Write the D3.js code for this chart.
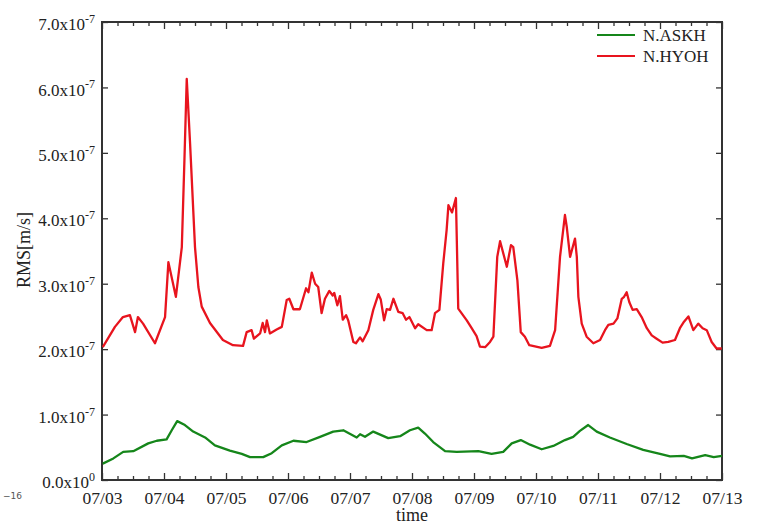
<!DOCTYPE html>
<html>
<head>
<meta charset="utf-8">
<script src="https://cdn.jsdelivr.net/npm/d3@7"></script>
<style>
  body { margin: 0; background: #fff; }
  svg { display: block; }
  text { font-family: "Liberation Serif", "Times New Roman", serif; fill: #222; }
  .domain { display: none; }
  .tick line { stroke: #333; stroke-width: 1.3; }
</style>
</head>
<body>
<svg id="chart" width="760" height="526"></svg>
<script>
// Hours since 07/03 00:00, values in units of 1e-7 m/s.
const dayLabels = ["07/03", "07/04", "07/05", "07/06", "07/07", "07/08", "07/09", "07/10", "07/11", "07/12", "07/13"];
const yTicks = [0, 1, 2, 3, 4, 5, 6, 7];

const hyohHours = [0.3, 5.0, 8.1, 10.8, 12.8, 13.9, 15.9, 20.5, 24.4, 25.7, 28.6, 30.9, 31.9, 32.8, 34.1, 36.0, 37.3, 38.6, 41.8, 46.8, 50.7, 54.6, 56.0,
  57.9, 58.8, 61.2, 62.2, 63.1, 63.8, 65.0, 67.6, 69.6, 71.5, 72.5, 74.1, 76.6, 79.0, 79.9, 81.2, 82.5, 83.7, 85.0, 86.3,
  88.0, 89.3, 89.9, 91.1, 92.1, 93.2, 94.5, 95.3, 97.3, 98.3, 99.9, 100.9, 103.1, 105.0, 107.0, 107.9, 109.2, 110.2, 111.5, 112.8,
  114.7, 116.4, 117.7, 119.0, 121.2, 122.4, 125.7, 127.6, 128.9, 130.6, 132.1, 133.4, 134.1, 135.5, 137.0, 137.9, 141.2, 143.1, 145.0, 146.3,
  148.3, 150.2, 151.5, 153.0, 154.1, 156.7, 158.3, 159.2, 160.8, 162.1, 163.7, 165.4, 170.2, 173.4, 175.4, 177.3, 179.2, 179.9, 181.2, 183.1,
  183.8, 184.4, 185.7, 187.6, 190.2, 192.8, 194.7, 196.0, 198.0, 199.5, 201.2, 202.1, 203.1, 204.1, 205.4, 207.0, 208.9, 210.9, 212.8, 214.7,
  217.0, 219.2, 221.8, 223.7, 225.3, 227.0, 228.9, 230.8, 232.5, 234.1, 236.0, 237.9, 239.9];
const hyohValues = [2.03, 2.34, 2.49, 2.52, 2.26, 2.49, 2.39, 2.09, 2.49, 3.33, 2.80, 3.56, 4.88, 6.13, 5.14, 3.56, 2.95, 2.65, 2.40, 2.14, 2.06, 2.05, 2.26,
  2.29, 2.16, 2.24, 2.40, 2.26, 2.44, 2.24, 2.30, 2.34, 2.75, 2.77, 2.61, 2.61, 2.93, 2.87, 3.17, 3.00, 2.95, 2.55, 2.77,
  2.89, 2.82, 2.86, 2.67, 2.81, 2.45, 2.52, 2.44, 2.11, 2.09, 2.18, 2.12, 2.29, 2.60, 2.84, 2.76, 2.44, 2.61, 2.60, 2.77,
  2.57, 2.55, 2.45, 2.49, 2.32, 2.38, 2.29, 2.29, 2.55, 2.60, 3.31, 3.82, 4.20, 4.09, 4.31, 2.62, 2.44, 2.32, 2.20, 2.04,
  2.03, 2.11, 2.19, 3.41, 3.65, 3.26, 3.59, 3.56, 3.05, 2.26, 2.19, 2.06, 2.02, 2.05, 2.29, 3.41, 4.05, 3.87, 3.41, 3.69,
  3.41, 2.80, 2.39, 2.19, 2.09, 2.14, 2.29, 2.37, 2.39, 2.47, 2.77, 2.80, 2.87, 2.72, 2.60, 2.61, 2.49, 2.32, 2.21, 2.16,
  2.10, 2.11, 2.14, 2.32, 2.42, 2.50, 2.29, 2.39, 2.32, 2.29, 2.11, 2.01, 2.01];

const askhHours = [0.3, 4.4, 8.2, 12.1, 17.9, 21.2, 25.0, 27.0, 29.1, 32.1, 35.3, 39.9, 43.7, 49.5, 54.1, 57.3, 62.4, 65.7, 69.6, 74.1,
  79.2, 84.4, 89.5, 93.4, 98.6, 99.9, 101.8, 105.0, 110.8, 115.4, 119.2, 122.4, 125.0, 128.2, 132.8, 137.3, 145.7, 150.8, 155.3, 158.6,
  162.1, 165.7, 170.2, 174.7, 179.2, 182.4, 185.0, 188.2, 191.5, 196.6, 203.1, 209.5, 216.0, 219.9, 225.2, 228.4, 233.5, 236.8, 240.0];
const askhValues = [0.25, 0.33, 0.43, 0.44, 0.56, 0.60, 0.62, 0.76, 0.90, 0.84, 0.74, 0.65, 0.53, 0.45, 0.40, 0.35, 0.35, 0.41, 0.53, 0.60,
  0.58, 0.66, 0.74, 0.76, 0.65, 0.70, 0.66, 0.74, 0.64, 0.67, 0.76, 0.80, 0.71, 0.58, 0.44, 0.43, 0.44, 0.40, 0.43, 0.56,
  0.61, 0.54, 0.47, 0.52, 0.61, 0.66, 0.75, 0.84, 0.74, 0.65, 0.55, 0.46, 0.40, 0.36, 0.37, 0.33, 0.38, 0.35, 0.37];

const seriesNames = ["N.ASKH", "N.HYOH"];
const seriesColors = ["#15861a", "#e8141e"];

const width = 760, height = 526;
const margin = {top: 22, right: 38, bottom: 46, left: 102};
const innerWidth = width - margin.left - margin.right;
const innerHeight = height - margin.top - margin.bottom;

const svg = d3.select("#chart");
const g = svg.append("g").attr("transform", `translate(${margin.left},${margin.top})`);

const x = d3.scaleLinear().domain([0, 240]).range([0, innerWidth]);
const y = d3.scaleLinear().domain([0, 7]).range([innerHeight, 0]);

const majorX = d3.range(0, 241, 24);
const minorX = d3.range(0, 241, 6).filter((h) => h % 24 !== 0);

// Axes: ticks point inward on all four sides.
const xBottom = g.append("g").attr("transform", `translate(0,${innerHeight})`)
  .call(d3.axisBottom(x).tickValues(majorX).tickSizeInner(-7).tickSizeOuter(0).tickPadding(12)
    .tickFormat((d, i) => dayLabels[i]));
xBottom.selectAll("text").style("font-size", "17.5px");
g.append("g").attr("transform", `translate(0,${innerHeight})`)
  .call(d3.axisBottom(x).tickValues(minorX).tickSizeInner(-4).tickSizeOuter(0))
  .selectAll("text").remove();
g.append("g")
  .call(d3.axisTop(x).tickValues(majorX).tickSizeInner(-7).tickSizeOuter(0))
  .selectAll("text").remove();
g.append("g")
  .call(d3.axisTop(x).tickValues(minorX).tickSizeInner(-4).tickSizeOuter(0))
  .selectAll("text").remove();

const yLeft = g.append("g")
  .call(d3.axisLeft(y).tickValues(yTicks).tickSizeInner(-6).tickSizeOuter(0).tickPadding(7)
    .tickFormat((d) => d.toFixed(1)));
yLeft.selectAll(".tick text").each(function(d) {
  const t = d3.select(this);
  t.text(null).style("font-size", "17px").attr("dy", "0.45em");
  t.append("tspan").text(d.toFixed(1) + "x10");
  t.append("tspan").attr("dy", "-0.6em").style("font-size", "12px").text(d === 0 ? "0" : "-7");
});
g.append("g").attr("transform", `translate(${innerWidth},0)`)
  .call(d3.axisRight(y).tickValues(yTicks).tickSizeInner(-6).tickSizeOuter(0))
  .selectAll("text").remove();

// Frame
g.append("rect")
  .attr("width", innerWidth).attr("height", innerHeight)
  .attr("fill", "none").attr("stroke", "#333").attr("stroke-width", 2);

// Lines
const line = d3.line().x((d) => x(d[0])).y((d) => y(d[1]));
const askh = d3.zip(askhHours, askhValues);
const hyoh = d3.zip(hyohHours, hyohValues);
[askh, hyoh].forEach((data, i) => {
  g.append("path")
    .attr("d", line(data))
    .attr("fill", "none")
    .attr("stroke", seriesColors[i])
    .attr("stroke-width", 2.3)
    .attr("stroke-linejoin", "round");
});

// Legend
const legend = g.append("g").attr("transform", `translate(${597 - margin.left},${35 - margin.top})`);
seriesNames.forEach((name, i) => {
  legend.append("line")
    .attr("x1", 0).attr("x2", 38).attr("y1", i * 21).attr("y2", i * 21)
    .attr("stroke", seriesColors[i]).attr("stroke-width", 2.2);
  legend.append("text")
    .attr("x", 46).attr("y", i * 21 + 6)
    .style("font-size", "17px")
    .text(name);
});

// Axis titles
svg.append("text")
  .attr("x", margin.left + innerWidth / 2).attr("y", 521)
  .attr("text-anchor", "middle").style("font-size", "18px")
  .text("time");
svg.append("text")
  .attr("transform", `translate(30,250) rotate(-90)`)
  .attr("text-anchor", "middle").style("font-size", "18px")
  .text("RMS[m/s]");

// Stray clipped label at the left edge of the original
svg.append("text")
  .attr("x", 3).attr("y", 499)
  .style("font-family", "DejaVu Sans").style("font-size", "9px").style("fill", "#555")
  .text("−16");
</script>
</body>
</html>
